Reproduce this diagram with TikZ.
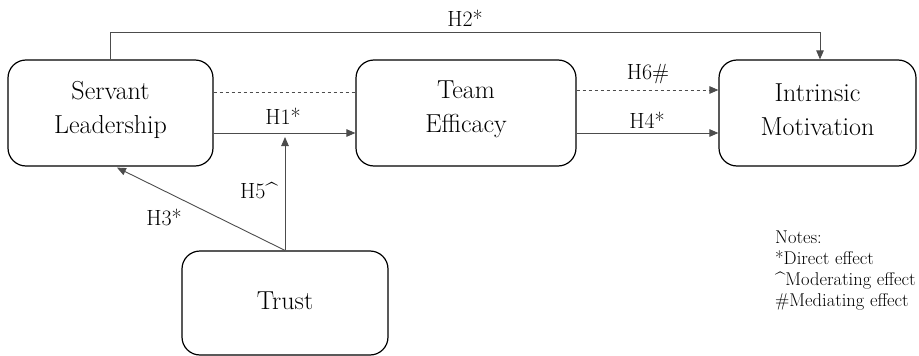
\documentclass[tikz,border=0pt]{standalone}
\usetikzlibrary{arrows.meta}
\begin{document}
\begin{tikzpicture}[x=1pt,y=-1pt,
  box/.style={draw=black,line width=1.2pt,rounded corners=18pt,inner sep=0pt},
  boxtext/.style={align=center,font=\fontsize{26}{34}\selectfont,inner sep=0pt,yshift=3.5pt},
  conn/.style={draw=black!70,line width=0.9pt},
  arr/.style={conn,-{Triangle[length=9pt,width=7.5pt]}},
  lab/.style={font=\fontsize{22}{24}\selectfont,inner sep=0pt,anchor=base},
]
\useasboundingbox (0,0) rectangle (919,356);
\node[box,minimum width=205pt,minimum height=106pt,
  label={[boxtext,name=slt]center:Servant\\Leadership}] (sl) at (110.5,113) {};
\node[box,minimum width=220pt,minimum height=106pt,
  label={[boxtext,name=tet]center:Team\\Efficacy}] (te) at (466,113) {};
\node[box,minimum width=197pt,minimum height=106pt,
  label={[boxtext,name=imt]center:Intrinsic\\Motivation}] (im) at (817.5,113) {};
\node[box,minimum width=206pt,minimum height=104pt,
  label={[boxtext,name=trt,yshift=-1pt]center:Trust}] (tr) at (285,303) {};
% H2
\coordinate (h2a) at (110.5,32);
\draw[arr] (sl.north) -- (h2a) -| ([xshift=2.5pt]im.north);
\node[lab] (l2) at (465,27) {H2*};
% dashed SL - TE
\draw[conn,dashed] ([yshift=21pt]sl.east) -- ([yshift=21pt]te.west);
% H1
\draw[arr] ([yshift=-20pt]sl.east) -- ([yshift=-20pt]te.west);
\node[lab] (l1) at (283,124) {H1*};
% H6
\draw[arr,dashed] ([yshift=23pt]te.east) -- ([yshift=23pt]im.west);
\node[lab] (l6) at (648,79) {H6\#};
% H4
\draw[arr] ([yshift=-20pt]te.east) -- ([yshift=-20pt]im.west);
\node[lab] (l4) at (647,128) {H4*};
% H5
\coordinate (h5) at (285,137);
\draw[arr] (tr.north) -- (h5);
\node[lab] (l5) at (259,198) {H5\textasciicircum};
% H3
\draw[arr] (tr.north) -- ([xshift=6.5pt,yshift=-1pt]sl.south);
\node[lab] (l3) at (164,225) {H3*};
% Notes
\node[anchor=north west,align=left,inner sep=0pt,font=\fontsize{18.5}{21}\selectfont] (notes) at (775,231)
  {Notes:\\*Direct effect\\\textasciicircum Moderating effect\\\#Mediating effect};
\end{tikzpicture}
\end{document}
